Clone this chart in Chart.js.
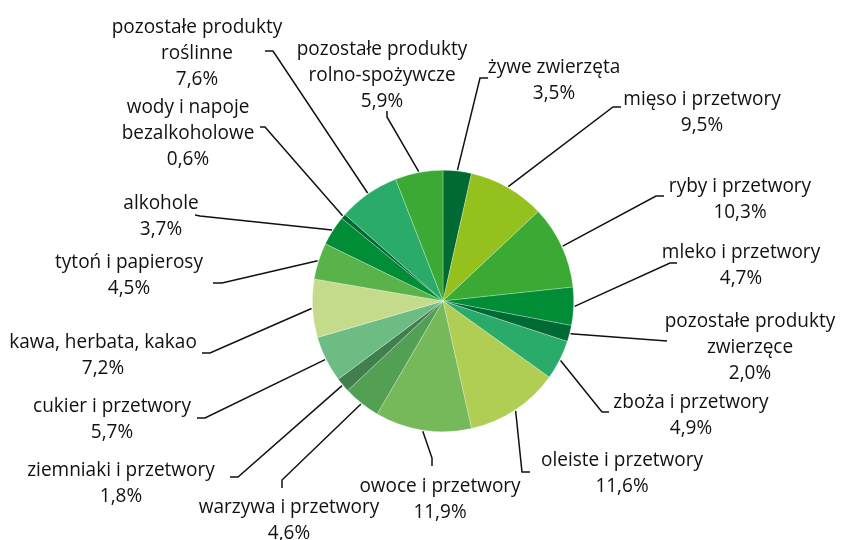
<!DOCTYPE html>
<html>
<head>
<meta charset="utf-8">
<script src="https://cdn.jsdelivr.net/npm/chart.js@4"></script>
<style>
  html, body { margin: 0; padding: 0; background: #fff; }
  #wrap { width: 847px; height: 540px; }
</style>
</head>
<body>
<div id="wrap"><canvas id="pie-chart" width="847" height="540"></canvas></div>
<script>
// categories (split into text lines) and their shares in %
const categories = [
    ["żywe zwierzęta"],
    ["mięso i przetwory"],
    ["ryby i przetwory"],
    ["mleko i przetwory"],
    ["pozostałe produkty", "zwierzęce"],
    ["zboża i przetwory"],
    ["oleiste i przetwory"],
    ["owoce i przetwory"],
    ["warzywa i przetwory"],
    ["ziemniaki i przetwory"],
    ["cukier i przetwory"],
    ["kawa, herbata, kakao"],
    ["tytoń i papierosy"],
    ["alkohole"],
    ["wody i napoje", "bezalkoholowe"],
    ["pozostałe produkty", "roślinne"],
    ["pozostałe produkty", "rolno-spożywcze"]
];
const shares = [3.5, 9.5, 10.3, 4.7, 2.0, 4.9, 11.6, 11.9, 4.6, 1.8, 5.7, 7.2, 4.5, 3.7, 0.6, 7.6, 5.9];
const sliceColors = [
    "#006a35", "#95c11f", "#3aaa35", "#008d36", "#006a35", "#2aab6a",
    "#b0cd54", "#75b95b", "#53a055", "#417f4f", "#6dbc84", "#c5db8c",
    "#5ab34a", "#008d36", "#006a35", "#2aab6a", "#3aaa35"
];

// label placement: text centre x, first baseline y, leader elbow, tick end
const labelLayout = [
    { tx: 554, ty: 73,  ex: 480, ey: 78,  kx: 488, ky: 78 },
    { tx: 702, ty: 105, ex: 613, ey: 107, kx: 621, ky: 107 },
    { tx: 740, ty: 192, ex: 656, ey: 196, kx: 664, ky: 196 },
    { tx: 741, ty: 258, ex: 670, ey: 263, kx: 677, ky: 263 },
    { tx: 750, ty: 327, ex: 667, ey: 341, kx: 667, ky: 341 },
    { tx: 691, ty: 408, ex: 602, ey: 412, kx: 609, ky: 412 },
    { tx: 622, ty: 466, ex: 522, ey: 472, kx: 530, ky: 472 },
    { tx: 440, ty: 492, ex: 432, ey: 458, kx: 432, ky: 466 },
    { tx: 289, ty: 513, ex: 282, ey: 480, kx: 282, ky: 488 },
    { tx: 121, ty: 476, ex: 238, ey: 477, kx: 230, ky: 477 },
    { tx: 112, ty: 412, ex: 205, ey: 418, kx: 197, ky: 418 },
    { tx: 103, ty: 348, ex: 210, ey: 353, kx: 202, ky: 353 },
    { tx: 129, ty: 268, ex: 222, ey: 283, kx: 213, ky: 283 },
    { tx: 161, ty: 209, ex: 200, ey: 216, kx: 195, ky: 215 },
    { tx: 188, ty: 113, ex: 265, ey: 127, kx: 260, ky: 127 },
    { tx: 197, ty: 33,  ex: 273, ey: 51,  kx: 265, ky: 51 },
    { tx: 382, ty: 55,  ex: 387, ey: 117, kx: 387, ky: 111 }
];

const lineGap = 26;
const inkColor = "#111111";

const calloutLabels = {
    id: "calloutLabels",
    afterDraw(chart) {
        const ctx = chart.ctx;
        const arcs = chart.getDatasetMeta(0).data;
        ctx.save();
        ctx.strokeStyle = inkColor;
        ctx.lineWidth = 1.5;
        ctx.lineJoin = "miter";
        ctx.fillStyle = inkColor;
        ctx.font = "20px 'Open Sans'";
        ctx.textAlign = "center";
        ctx.textBaseline = "alphabetic";
        arcs.forEach((arc, i) => {
            const p = arc.getProps(["x", "y", "startAngle", "endAngle", "outerRadius"], true);
            const mid = (p.startAngle + p.endAngle) / 2;
            const r = p.outerRadius + 1;
            const sx = p.x + Math.cos(mid) * r;
            const sy = p.y + Math.sin(mid) * r;
            const L = labelLayout[i];
            ctx.beginPath();
            ctx.moveTo(sx, sy);
            ctx.lineTo(L.ex, L.ey);
            ctx.lineTo(L.kx, L.ky);
            ctx.stroke();

            const lines = categories[i].concat([shares[i].toFixed(1).replace(".", ",") + "%"]);
            lines.forEach((t, j) => {
                ctx.save();
                ctx.translate(L.tx, L.ty + j * lineGap);
                ctx.scale(0.95, 1);
                ctx.fillText(t, 0, 0);
                ctx.restore();
            });
        });
        ctx.restore();
    }
};

const canvas = document.getElementById("pie-chart");
const ctx = canvas.getContext("2d");

const chart = new Chart(ctx, {
    type: "pie",
    data: {
        labels: categories.map(c => c.join(" ")),
        datasets: [{
            data: shares,
            backgroundColor: sliceColors,
            borderColor: "rgba(255,255,255,0.45)",
            borderWidth: 0.6
        }]
    },
    options: {
        responsive: false,
        animation: false,
        layout: {
            padding: { top: 170, bottom: 108, left: 312, right: 273 }
        },
        plugins: {
            legend: { display: false },
            tooltip: { enabled: false }
        }
    },
    plugins: [calloutLabels]
});
</script>
</body>
</html>
